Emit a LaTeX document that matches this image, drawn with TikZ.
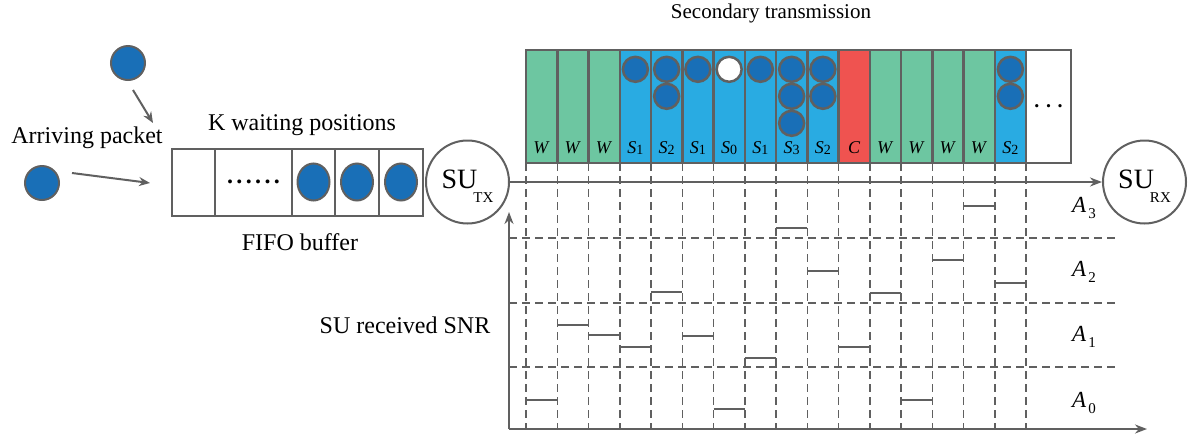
\documentclass[tikz,border=0pt]{standalone}
\usepackage{fontspec}
\setmainfont{Liberation Serif}
\usetikzlibrary{positioning,shapes.geometric,arrows.meta}

\definecolor{slotgreen}{RGB}{109,198,161}
\definecolor{slotblue}{RGB}{41,171,226}
\definecolor{slotred}{RGB}{239,83,80}
\definecolor{pktblue}{RGB}{25,111,183}
\definecolor{edgegray}{RGB}{96,96,96}

\newcommand{\sslot}[1]{\textit{S}\raisebox{-1pt}{\fontsize{14}{14}\selectfont #1}}
\newcommand{\sutag}[1]{\raisebox{-6pt}[0pt][0pt]{SU\kern-4pt\raisebox{-14pt}{\fontsize{15}{15}\selectfont #1}}}
\newcommand{\dotrow}{\bfseries .\hspace{3.4pt}.\hspace{3.4pt}.\hspace{3.4pt}.\hspace{3.4pt}.\hspace{3.4pt}.}

\tikzset{
  txt/.style={font=\fontsize{24}{28}\selectfont, inner sep=0pt},
  slotbox/.style={draw=edgegray, line width=2.5pt, minimum width=31.25pt,
    minimum height=113pt, inner sep=0pt, outer sep=0pt},
  slotlbl/.style={font=\fontsize{18}{20}\selectfont, inner sep=0pt, anchor=base},
  cell/.style={draw=edgegray, line width=2pt, minimum height=67pt,
    inner sep=0pt, outer sep=0pt},
  pkt/.style={circle, draw=edgegray, line width=2pt, fill=pktblue,
    minimum size=34pt, inner sep=0pt},
  slotpkt/.style={circle, draw=edgegray, line width=2.5pt, fill=pktblue,
    minimum size=25pt, inner sep=0pt},
  bufpkt/.style={ellipse, draw=edgegray, line width=2pt, fill=pktblue,
    minimum width=32pt, minimum height=37pt, inner sep=0pt},
  su/.style={circle, draw=edgegray, line width=2pt, minimum size=83pt,
    inner sep=0pt, font=\fontsize{28}{30}\selectfont},
  feed/.style={draw=edgegray, line width=2pt, -{Stealth[length=11pt,width=9pt]}},
  axisarrow/.style={draw=edgegray, line width=2pt, -{Stealth[length=12pt,width=9pt]}},
  gridline/.style={draw=edgegray, line width=1.5pt, dash pattern=on 8pt off 5pt},
  snrseg/.style={draw=edgegray, line width=2.5pt},
  levlbl/.style={font=\fontsize{23}{26}\selectfont, inner sep=0pt}
}

\begin{document}
\begin{tikzpicture}[x=1pt, y=-1pt]
  \useasboundingbox (0,0) rectangle (1198,437);

  % Arriving packets
  \node[pkt] (pktA) at (128,63) {};
  \node[pkt] (pktB) at (42,183) {};
  \coordinate (inA1) at (133,90);
  \coordinate (inA2) at (153,123);
  \coordinate (inB1) at (72,173);
  \coordinate (inB2) at (150,183);
  \draw[feed] (inA1) -- (inA2);
  \draw[feed] (inB1) -- (inB2);
  \node[txt, anchor=base] (arrive) at (87,143) {Arriving packet};

  % FIFO buffer
  \node[cell, minimum width=43pt] (b1) at (193.5,182) {};
  \node[cell, minimum width=77pt, right=0pt of b1] (b2) {\fontsize{24}{28}\selectfont\dotrow};
  \node[cell, minimum width=43pt, right=0pt of b2] (b3) {};
  \node[cell, minimum width=44pt, right=0pt of b3] (b4) {};
  \node[cell, minimum width=44pt, right=0pt of b4] (b5) {};
  \foreach \c in {3,4,5}
    \node[bufpkt] (q\c) at (b\c) {};
  \node[txt, anchor=base] (kpos) at (302,130) {K waiting positions};
  \node[txt, anchor=base] (fifo) at (300,250) {FIFO buffer};

  % Transmitter and receiver
  \node[su, right=2pt of b5] (tx) {\sutag{TX}};
  \node[su] (rx) at (1144.5,182) {\sutag{RX}};

  % SNR grid
  \foreach \i in {0,...,16}
    \draw[gridline] ({526+31.25*\i},163) -- ({526+31.25*\i},429);
  \foreach \v in {238,303,367}
    \draw[gridline] (509,\v) -- (1115,\v);
  \foreach \s/\v in {0/400, 1/325, 2/335, 3/347, 4/292, 5/336, 6/409, 7/358,
                     8/228, 9/271, 10/347, 11/293, 12/400, 13/260, 14/206, 15/283}
    \draw[snrseg] ({526+31.25*\s},\v) -- ++(31.25,0);
  \foreach \k/\v in {3/208, 2/272, 1/337, 0/403}
    \node[levlbl] (lev\k) at (1084,\v)
      {\textit{A}\kern2pt\raisebox{-6pt}{\fontsize{15}{15}\selectfont\k}};

  % Axes
  \coordinate (origin) at (509,429);
  \coordinate (yend) at (509,212);
  \coordinate (xend) at (1147,429);
  \draw[axisarrow] (origin) -- (yend);
  \draw[axisarrow] (origin) -- (xend);
  \node[txt, anchor=base] (snr) at (405,333) {SU received SNR};

  % Link from transmitter to receiver
  \draw[axisarrow] (tx) -- (rx);

  % Secondary transmission slots
  \foreach \col/\tag [count=\i from 0] in {slotgreen/{\textit{W}}, slotgreen/{\textit{W}},
      slotgreen/{\textit{W}}, slotblue/{\sslot{1}}, slotblue/{\sslot{2}}, slotblue/{\sslot{1}},
      slotblue/{\sslot{0}}, slotblue/{\sslot{1}}, slotblue/{\sslot{3}}, slotblue/{\sslot{2}},
      slotred/{\textit{C}}, slotgreen/{\textit{W}}, slotgreen/{\textit{W}},
      slotgreen/{\textit{W}}, slotgreen/{\textit{W}}, slotblue/{\sslot{2}}} {
    \node[slotbox, fill=\col] (slot\i) at ({541.625+31.25*\i},106.5) {};
    \node[slotlbl] (tag\i) at ([yshift=10pt]slot\i.south) {\tag};
  }
  \node[slotbox, fill=white, minimum width=45pt] (more) at (1048.5,106.5)
    {\fontsize{20}{22}\selectfont\bfseries . . .};
  \foreach \s/\r in {3/1, 4/1, 4/2, 5/1, 7/1, 8/1, 8/2, 8/3, 9/1, 9/2, 15/1, 15/2}
    \node[slotpkt] (p\s-\r) at ({541.625+31.25*\s},{69.3+27*(\r-1)}) {};
  \node[slotpkt, fill=white] (p6-1) at ({541.625+31.25*6},69.3) {};
  \node[txt, anchor=base, font=\fontsize{21}{25}\selectfont] (sectx) at (771,18)
    {Secondary transmission};
\end{tikzpicture}
\end{document}
